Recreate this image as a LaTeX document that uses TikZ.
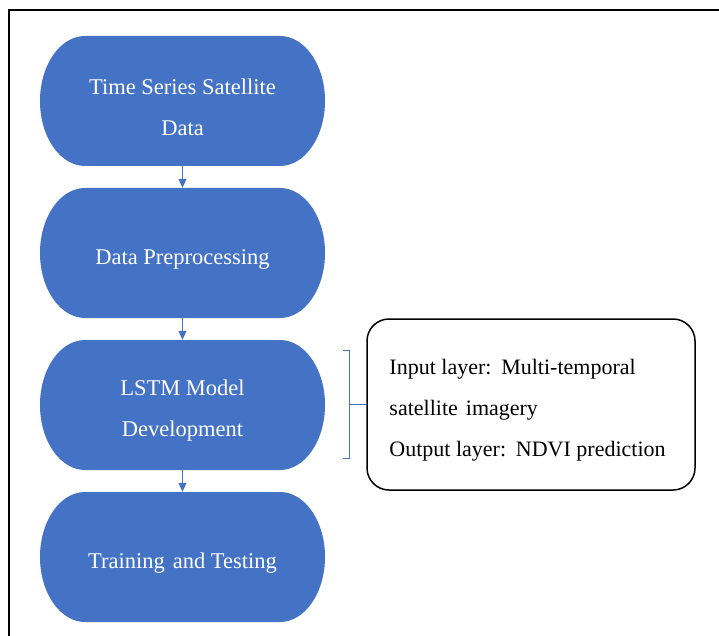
\documentclass[tikz,border=0pt]{standalone}
\usepackage{fontspec}
\setmainfont{Liberation Serif}
\usetikzlibrary{arrows.meta}
\definecolor{blueA}{HTML}{4472C4}
\newcommand{\gapx}{\hspace{2.5pt}}
\tikzset{
  blk/.style={minimum width=285pt, minimum height=130pt, inner sep=0pt,
    path picture={\fill[blueA]
      ([xshift=45pt]path picture bounding box.north west) --
      ([xshift=-45pt]path picture bounding box.north east)
      arc[start angle=90,end angle=-90,x radius=45pt,y radius=65pt] --
      ([xshift=45pt]path picture bounding box.south west)
      arc[start angle=270,end angle=90,x radius=45pt,y radius=65pt] -- cycle;}},
  blktext/.style={text=white, align=center, inner sep=0pt,
    font=\fontsize{22.5}{41}\selectfont},
  flow/.style={draw=blueA, line width=1pt, -{Triangle[width=8pt,length=9pt]}},
  note/.style={draw=black, line width=1.5pt, rounded corners=22pt,
    minimum width=328pt, minimum height=171pt, inner sep=0pt},
  notetext/.style={align=left, inner sep=0pt, anchor=west,
    font=\fontsize{22}{41}\selectfont},
  frame/.style={draw=black, line width=2pt}
}
\begin{document}
\begin{tikzpicture}[x=1pt,y=-1pt]
\useasboundingbox (0,0) rectangle (719,636);
\draw[frame] (719,10) -- (9,10) -- (9,636);
\node[blk] (b1) at (182.5,101) {};
\node[blk] (b2) at (182.5,253) {};
\node[blk] (b3) at (182.5,405) {};
\node[blk] (b4) at (182.5,557) {};
\node[blktext] (t1) at ([yshift=-6pt]b1.center) {Time Series Satellite\\Data};
\node[blktext] (t2) at ([yshift=-6pt]b2.center) {Data Preprocessing};
\node[blktext] (t3) at ([yshift=-6pt]b3.center) {LSTM Model\\Development};
\node[blktext] (t4) at ([yshift=-6pt]b4.center) {Training \gapx and Testing};
\draw[flow] (b1.south) -- (b2.north);
\draw[flow] (b2.south) -- (b3.north);
\draw[flow] (b3.south) -- (b4.north);
\node[note] (n) at (531,404.5) {};
\node[notetext] (nt) at ([xshift=23pt,yshift=-6pt]n.west) {Input layer: \gapx Multi-temporal\\satellite \gapx imagery\\Output layer: \gapx NDVI prediction};
\coordinate (bt) at (343,350);
\coordinate (bb) at (343,458);
\coordinate (bm) at (349,404.5);
\draw[blueA, line width=1pt] (bt) -- ++(6,0) -- ++(0,108) -- (bb);
\draw[blueA, line width=1pt] (bm) -- (n.west);
\end{tikzpicture}
\end{document}
